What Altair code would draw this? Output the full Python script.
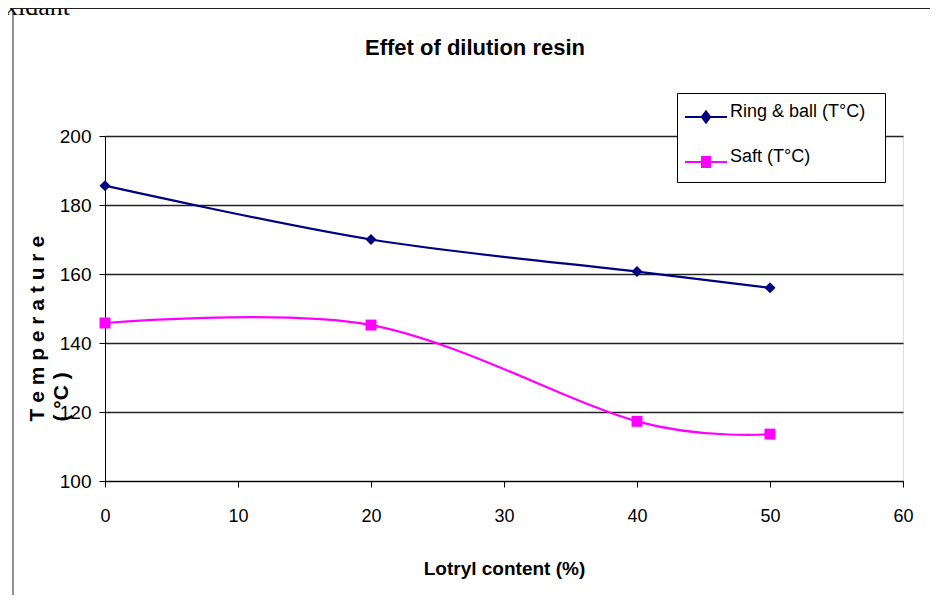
import altair as alt
import pandas as pd

# ---- data ----
lotryl = [0, 20, 40, 50]
ring_ball = [185.6, 170.0, 160.7, 156.0]
saft = [145.8, 145.2, 117.3, 113.6]
series_names = ["Ring & ball  (T°C)", "Saft (T°C)"]
series_colors = ["#000080", "#FF00FF"]
x_ticks = [0, 10, 20, 30, 40, 50, 60]
y_ticks = [100, 120, 140, 160, 180, 200]
chart_title = "Effet of dilution resin"

rows = []
for x, r, s in zip(lotryl, ring_ball, saft):
    rows.append({"x": x, "y": r, "series": series_names[0]})
    rows.append({"x": x, "y": s, "series": series_names[1]})
df = pd.DataFrame(rows)

SANS = "Liberation Sans, Arial, sans-serif"
W, H = 798, 345

xenc = alt.X(
    "x:Q",
    scale=alt.Scale(domain=[0, 60], nice=False, zero=False),
    axis=alt.Axis(
        values=x_ticks, grid=False, title="Lotryl content (%)", labelFlush=False,
        labelFont=SANS, labelFontSize=18, labelColor="black", labelPadding=20,
        tickSize=6, tickColor="black", domainColor="black",
        titleFont=SANS, titleFontSize=19, titleFontWeight="bold", titleColor="black",
        titleBaseline="middle", titleY=87,
    ),
)
yenc = alt.Y(
    "y:Q",
    scale=alt.Scale(domain=[100, 200], nice=False, zero=False),
    axis=alt.Axis(
        values=y_ticks, grid=True, gridColor="#222222", gridWidth=1.3,
        title=["T e m p e r a t u r e", "( °C )"],
        labelFont=SANS, labelFontSize=19, labelColor="black", labelPadding=8,
        tickSize=6, tickColor="black", domainColor="black",
        titleFont=SANS, titleFontSize=21,
        titleFontWeight="bold", titleColor="black", titleAngle=270,
        titleAlign="left", titleBaseline="alphabetic", titleX=-62, titleY=285,
        titleLineHeight=24,
    ),
)
color_nolegend = alt.Color(
    "series:N", scale=alt.Scale(domain=series_names, range=series_colors), legend=None
)

base = alt.Chart(df)

lines = base.mark_line(interpolate="cardinal", strokeWidth=2.2).encode(
    x=xenc, y=yenc, color=color_nolegend
)
points = base.mark_point(filled=True, opacity=1, size=120).encode(
    x=xenc, y=yenc, color=color_nolegend,
    shape=alt.Shape("series:N",
                    scale=alt.Scale(domain=series_names, range=["diamond", "square"]),
                    legend=None),
)

legend_shapes = [
    "M-2.1,-0.1H2.1V0.1H-2.1Z M0,-0.72L0.55,0L0,0.72L-0.55,0Z",
    "M-2.1,-0.1H2.1V0.1H-2.1Z M-0.5,-0.6H0.5V0.6H-0.5Z",
]
legend_def = alt.Legend(
    orient="none", legendX=572, legendY=-43, title=None,
    fillColor="white", strokeColor="black",
    padding=14, rowPadding=23, labelOffset=14, symbolOffset=5,
    labelFont=SANS, labelFontSize=18, labelColor="black", labelLimit=400,
    labelBaseline="alphabetic",
    symbolSize=400, symbolStrokeWidth=0, symbolOpacity=1,
)
legend_layer = base.mark_point(filled=True, size=400).encode(
    x=xenc, y=yenc,
    color=alt.Color("series:N", scale=alt.Scale(domain=series_names, range=series_colors),
                    legend=legend_def),
    shape=alt.Shape("series:N", scale=alt.Scale(domain=series_names, range=legend_shapes),
                    legend=legend_def),
).transform_filter("false")

# chart title
title_df = pd.DataFrame({"t": [chart_title]})
title_text = alt.Chart(title_df).mark_text(
    font=SANS, fontSize=22, fontWeight="bold", color="black",
    align="center", baseline="middle"
).encode(text="t:N", x=alt.value(370), y=alt.value(-88))

# decorative remnants of the surrounding page
deco = pd.DataFrame({"t": ["Oxidant"]})
deco_text = alt.Chart(deco).mark_text(
    font="Liberation Serif, Times New Roman, serif", fontSize=26, align="right",
    baseline="alphabetic", color="black"
).encode(text="t:N", x=alt.value(-35), y=alt.value(-121))
frame_v = alt.Chart(deco).mark_rule(color="#222222", strokeWidth=1).encode(
    x=alt.value(-92), y=alt.value(-128), y2=alt.value(470)
)
frame_h = alt.Chart(deco).mark_rule(color="#222222", strokeWidth=1).encode(
    x=alt.value(-92), x2=alt.value(830), y=alt.value(-127.5)
)

chart = alt.layer(
    lines, points, legend_layer, title_text, deco_text, frame_v, frame_h
).resolve_scale(
    color="independent", shape="independent"
).properties(
    width=W, height=H,
    autosize=alt.AutoSizeParams(type="none"),
    padding={"left": 97, "top": 128, "right": 27, "bottom": 114},
).configure_view(
    fill="#C0C0C0", stroke="#333333", strokeWidth=1.3
).configure(background="white")

chart.save("out.html", embed_options={"renderer": "svg", "actions": False})
